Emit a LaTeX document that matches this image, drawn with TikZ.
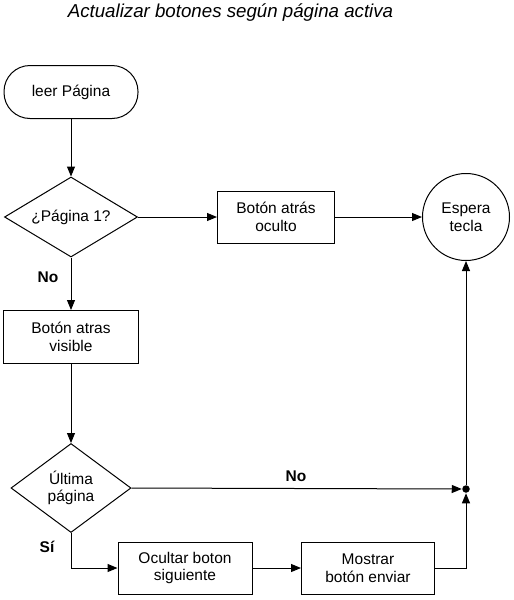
\documentclass[tikz,border=0pt]{standalone}
\usepackage{fontspec}
\setmainfont{Liberation Sans}
\usetikzlibrary{shapes.geometric,arrows.meta}
\begin{document}
\begin{tikzpicture}[x=1pt,y=-1pt,
  every node/.style={font=\fontsize{15.5}{17.5}\selectfont, align=center, inner sep=0pt},
  line width=1pt,
  proc/.style={draw, rectangle, minimum width=#1, minimum height=52pt},
  proc/.default=134pt,
  term/.style={draw, rectangle, rounded corners=26pt, minimum width=134pt, minimum height=53pt},
  waitc/.style={draw, circle, minimum size=87pt},
  lbl/.style={font=\fontsize{15.5}{17.5}\selectfont\bfseries},
  arr/.style={-{Triangle[length=10pt,width=8pt]}},
  dotc/.style={fill, circle, minimum size=7.5pt}
]
\useasboundingbox (0,0) rectangle (514,600);

\node[font=\fontsize{18.7}{21}\selectfont\itshape] (title) at (230.5,13) {Actualizar botones según página activa};

\node[term] (start) at (71,92) {leer Página};
\node[draw, diamond, minimum width=133pt, minimum height=80pt, aspect=1.66] (d1) at (71,217) {¿Página 1?};
\node[proc=117pt] (hide) at (276,217) {Botón atrás\\oculto};
\node[waitc] (wait) at (466,217) {Espera\\tecla};
\node[proc=135pt, minimum height=53pt] (show) at (71,337) {Botón atras\\visible};
\node[draw, diamond, minimum width=120pt, minimum height=89pt, aspect=1.35] (d2) at (71,488) {Última\\página};
\node[proc=134pt] (hidenext) at (185,568) {Ocultar boton\\siguiente};
\node[proc=133pt] (send) at (368,568) {Mostrar\\botón enviar};
\node[dotc] (jn) at (466,489) {};

\draw[arr] (start.south) -- (d1.north);
\draw[arr] (d1.east) -- (hide.west);
\draw[arr] (hide.east) -- (wait.west);
\draw[arr] (d1.south) -- (show.north);
\node[lbl] (no1) at (48,277) {No};
\draw[arr] (show.south) -- (d2.north);
\draw[arr] (d2.east) -- (jn.west);
\node[lbl] (no2) at (296,476) {No};
\draw[arr] (d2.south) |- (hidenext.west);
\node[lbl] (si) at (47,547) {Sí};
\draw[arr] (hidenext.east) -- (send.west);
\draw[arr] (send.east) -| (jn.south);
\draw[arr] (jn.north) -- (wait.south);
\end{tikzpicture}
\end{document}
